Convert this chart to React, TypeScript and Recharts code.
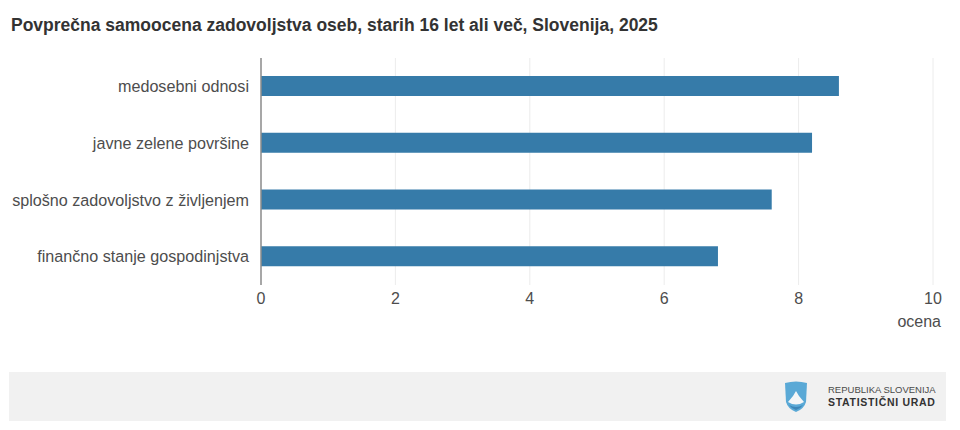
import { Bar, BarChart, CartesianGrid, XAxis, YAxis } from "recharts"

const categories = [
  "medosebni odnosi",
  "javne zelene površine",
  "splošno zadovoljstvo z življenjem",
  "finančno stanje gospodinjstva",
]
const scores = [8.6, 8.2, 7.6, 6.8]
const xTicks = [0, 2, 4, 6, 8, 10]

const data = categories.map((name, i) => ({ name, score: scores[i] }))

const font = "Liberation Sans, Arial, sans-serif"

function Logo() {
  return (
    <svg width="24" height="32" viewBox="0 0 24 32" style={{ position: "absolute", left: 784, top: 381 }}>
      <path d="M1 2 Q12 -1 23 2 L22 21 Q20 28 12 31 Q4 28 2 21 Z" fill="#5aa9d6" />
      <path d="M4 21 L9 15 L12 10 L15 15 L20 21 Q12 26 4 21 Z" fill="#f4f6f7" />
      <path d="M5 24 Q12 28 19 24 Q16 28 12 29 Q8 28 5 24 Z" fill="#3d86b8" />
    </svg>
  )
}

export default function App() {
  return (
    <div style={{ position: "absolute", left: 0, top: 0, width: 960, height: 430, background: "#fff", fontFamily: font, overflow: "hidden" }}>
      <div style={{ position: "absolute", left: 11, top: 15, fontSize: 17.5, fontWeight: 700, color: "#333", whiteSpace: "nowrap" }}>
        Povprečna samoocena zadovoljstva oseb, starih 16 let ali več, Slovenija, 2025
      </div>

      <BarChart
        width={960}
        height={430}
        layout="vertical"
        data={data}
        margin={{ top: 58, right: 27, bottom: 115, left: 11 }}
        style={{ position: "absolute", left: 0, top: 0 }}
      >
        <CartesianGrid horizontal={false} stroke="#ececec" />
        <XAxis
          type="number"
          domain={[0, 10]}
          ticks={xTicks}
          axisLine={false}
          tickLine={false}
          tickMargin={2}
          height={30}
          tick={{ fontSize: 16, fill: "#4d4d4d", fontFamily: font }}
        />
        <YAxis
          type="category"
          dataKey="name"
          width={250}
          axisLine={{ stroke: "#8c8c8c", strokeWidth: 1.5 }}
          tickLine={false}
          tickMargin={6}
          interval={0}
          tick={{ fontSize: 16.15, fill: "#4d4d4d", fontFamily: font }}
        />
        <Bar dataKey="score" fill="#367ba9" barSize={20} isAnimationActive={false} />
      </BarChart>

      <div style={{ position: "absolute", right: 19, top: 313, fontSize: 16, color: "#4d4d4d" }}>ocena</div>

      <div style={{ position: "absolute", left: 9, top: 372, width: 937, height: 49, background: "#f1f1f1" }} />
      <Logo />
      <div style={{ position: "absolute", left: 828, top: 384, fontSize: 9.5, lineHeight: "12px", color: "#4a4a4a", whiteSpace: "nowrap" }}>
        REPUBLIKA SLOVENIJA
      </div>
      <div style={{ position: "absolute", left: 828, top: 396, fontSize: 10.5, lineHeight: "12px", fontWeight: 700, letterSpacing: 0.7, color: "#333", whiteSpace: "nowrap" }}>
        STATISTIČNI URAD
      </div>
    </div>
  )
}
